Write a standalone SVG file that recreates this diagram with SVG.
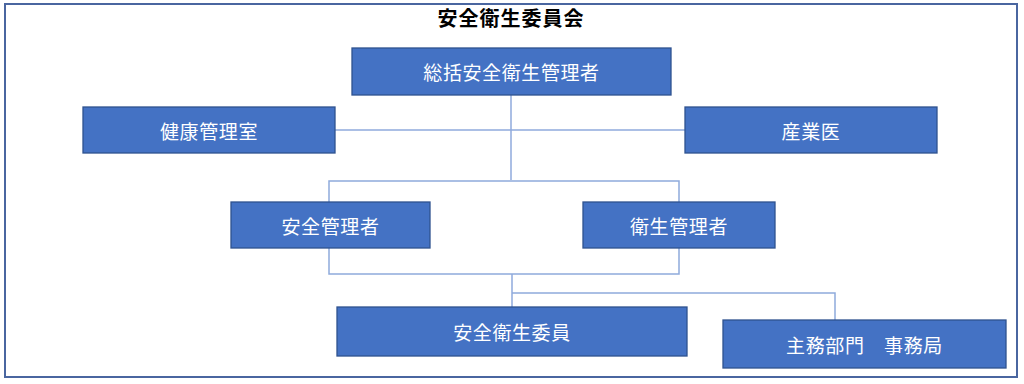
<svg xmlns="http://www.w3.org/2000/svg" width="1024" height="384" viewBox="0 0 1024 384">
<style>
.box{fill:#4472C4;stroke:#2F528F;stroke-width:1.3}
.lbl{fill:#FFFFFF;font-family:"Noto Sans CJK JP","Noto Sans",sans-serif;font-size:19px;font-weight:400;letter-spacing:0.6px;text-anchor:middle;dominant-baseline:central}
.title{fill:#000000;font-family:"Noto Sans CJK JP","Noto Sans",sans-serif;font-size:20px;font-weight:700;letter-spacing:1px;text-anchor:middle}
.conn{fill:none;stroke:#8FAADC;stroke-width:1.5}
</style>
<rect width="1024" height="384" fill="#FFFFFF"/>
<rect x="5" y="4" width="1012" height="373" fill="none" stroke="#4A66A0" stroke-width="2"/>
<text class="title" x="511" y="26">安全衛生委員会</text>
<g id="connectors">
<path class="conn" d="M511 95 V180"/>
<path class="conn" d="M335 130 H685"/>
<path class="conn" d="M329 202 V181 H679 V202"/>
<path class="conn" d="M329 248 V274 H679 V248"/>
<path class="conn" d="M512 274 V307"/>
<path class="conn" d="M512 293 H835 V320"/>
</g>
<g id="n1"><rect class="box" x="352" y="48" width="319" height="47"/><text class="lbl" x="511.5" y="71.5">総括安全衛生管理者</text></g>
<g id="n2"><rect class="box" x="83" y="107" width="252" height="46"/><text class="lbl" x="209" y="130">健康管理室</text></g>
<g id="n3"><rect class="box" x="685" y="107" width="252" height="46"/><text class="lbl" x="811" y="130">産業医</text></g>
<g id="n4"><rect class="box" x="231" y="202" width="199" height="46"/><text class="lbl" x="330.5" y="225">安全管理者</text></g>
<g id="n5"><rect class="box" x="583" y="202" width="192" height="46"/><text class="lbl" x="679" y="225">衛生管理者</text></g>
<g id="n6"><rect class="box" x="337" y="307" width="350" height="49"/><text class="lbl" x="512" y="331.5">安全衛生委員</text></g>
<g id="n7"><rect class="box" x="723" y="320" width="283" height="48"/><text class="lbl" x="864.5" y="344">主務部門　事務局</text></g>
</svg>
